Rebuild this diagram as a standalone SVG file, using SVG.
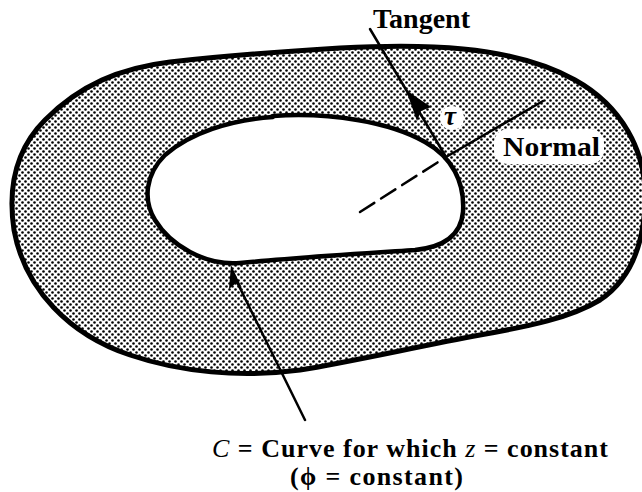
<svg xmlns="http://www.w3.org/2000/svg" width="642" height="492" viewBox="0 0 642 492">
  <style>
    .lbl { font-family: "Liberation Serif", "Times New Roman", serif; font-weight: bold; fill: #000; }
    .it { font-style: italic; font-weight: normal; }
    .line { stroke: #000; stroke-width: 2.5; fill: none; stroke-linecap: round; }
    .bound { stroke: #000; stroke-linejoin: round; }
  </style>
  <defs>
    <pattern id="dots" width="6" height="6" patternUnits="userSpaceOnUse">
      <rect width="6" height="6" fill="#fff"/>
      <circle cx="1.5" cy="1.5" r="1.3" fill="#000"/>
      <circle cx="4.5" cy="4.5" r="1.3" fill="#000"/>
    </pattern>
  </defs>
  <rect width="642" height="492" fill="#fff"/>

  <g id="region">
    <path class="bound" fill="url(#dots)" stroke-width="5" d="M 340 48 C 420 44, 510 44, 575 80 C 620 105, 648 150, 645 205 C 643 245, 630 280, 600 300 C 570 318, 530 326, 480 335 C 420 346, 350 362, 300 370 C 240 378, 180 372, 130 355 C 70 335, 25 290, 14 230 C 8 190, 15 150, 45 120 C 80 85, 120 68, 170 62 C 230 55, 290 51, 340 48 Z"/>
    <rect x="494" y="129" width="110" height="35" rx="14" fill="#fff"/>
    <ellipse cx="452" cy="118" rx="12" ry="12" fill="#fff"/>
  </g>

  <g id="curve-C">
    <path class="bound" fill="#fff" stroke-width="4.5" d="M 273 116 C 330 112, 390 122, 425 142 C 452 157, 465 182, 463 212 C 461 235, 445 247, 415 250 C 370 253, 290 258, 240 263 C 205 266, 170 245, 155 220 C 143 200, 145 175, 165 155 C 190 133, 230 120, 273 117 Z"/>
  </g>

  <g id="connectors">
    <line id="tangent-line" class="line" x1="446" y1="157" x2="370" y2="29"/>
    <path id="tangent-arrow" d="M 406 90 L 431 107 L 421 111 L 417 121 Z" fill="#000"/>
    <line id="normal-line" class="line" x1="446" y1="157" x2="543" y2="101"/>
    <line id="normal-dashed" class="line" stroke-linecap="butt" stroke-dasharray="17 8" x1="360" y1="212" x2="446" y2="157"/>
    <line id="leader-C" class="line" stroke-width="2.2" x1="305" y1="420" x2="236" y2="280"/>
    <path id="leader-arrow" d="M 231 265 L 242 288 L 236 283 L 229 289 Z" fill="#000"/>
  </g>

  <g id="label-tangent"><text class="lbl" x="373" y="28" font-size="27" textLength="97" lengthAdjust="spacingAndGlyphs">Tangent</text></g>
  <g id="label-normal"><text class="lbl" x="503" y="156" font-size="27" textLength="97" lengthAdjust="spacingAndGlyphs">Normal</text></g>
  <g id="label-tau"><text class="lbl" x="444" y="125" font-size="27" font-style="italic">τ</text></g>
  <g id="label-C">
    <text class="lbl" x="212" y="457" font-size="26" textLength="396" lengthAdjust="spacing"><tspan class="it">C</tspan> = Curve for which <tspan class="it">z</tspan> = constant</text>
    <text class="lbl" x="290" y="485" font-size="26" textLength="173" lengthAdjust="spacing">(ϕ = constant)</text>
  </g>
</svg>
